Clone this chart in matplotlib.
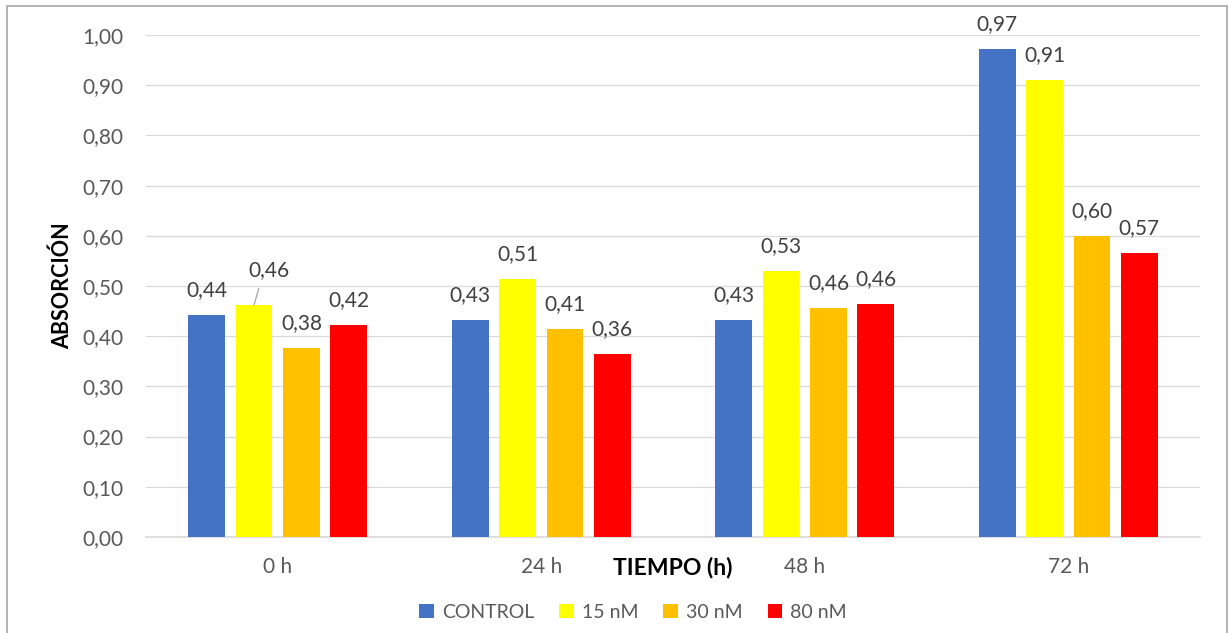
import numpy as np
import matplotlib
matplotlib.use("Agg")
import matplotlib.pyplot as plt
from matplotlib.patches import Rectangle

plt.rcParams['font.family'] = ['Lato', 'DejaVu Sans']

# datos
tiempos = ['0 h', '24 h', '48 h', '72 h']
series = ['CONTROL', '15 nM', '30 nM', '80 nM']
control = [0.442, 0.433, 0.432, 0.972]
nm15 = [0.462, 0.514, 0.530, 0.910]
nm30 = [0.376, 0.414, 0.456, 0.600]
nm80 = [0.422, 0.364, 0.464, 0.566]
valores = [control, nm15, nm30, nm80]

colores = ['#4472C4', '#FFFF00', '#FFC000', '#FF0000']

fig = plt.figure(figsize=(12.29, 6.33), dpi=100)
ax = fig.add_axes([0.1188, 0.1517, 0.8576, 0.7930])

x = np.arange(len(tiempos))
ancho = 0.14
paso = 0.18

for i, (nombre, vals) in enumerate(zip(series, valores)):
    pos = x + (i - 1.5) * paso
    ax.bar(pos, vals, width=ancho, color=colores[i], label=nombre, zorder=3)
    for j, v in enumerate(vals):
        txt = f"{v:.2f}".replace('.', ',')
        if i == 1 and j == 0:
            # etiqueta desplazada con linea guia
            ax.annotate(txt, xy=(pos[j], v), xytext=(11, 25), textcoords='offset points',
                        ha='center', va='center', fontsize=15, color='#404040',
                        arrowprops=dict(arrowstyle='-', color='#A6A6A6', lw=0.9,
                                        relpos=(0.3, 0.0), shrinkA=4, shrinkB=0))
        else:
            ax.annotate(txt, xy=(pos[j], v), xytext=(0, 18), textcoords='offset points',
                        ha='center', va='center', fontsize=15, color='#404040',
                        annotation_clip=False)

ax.set_xlim(-0.5, 3.5)
ax.set_ylim(0, 1.0)
ax.set_yticks(np.arange(0, 1.01, 0.1))
ax.set_yticklabels([f"{t:.2f}".replace('.', ',') for t in np.arange(0, 1.01, 0.1)])
ax.set_xticks(x)
ax.set_xticklabels(tiempos)
ax.tick_params(axis='y', length=0, pad=16, labelsize=15, labelcolor='#595959')
ax.tick_params(axis='x', length=0, pad=14.5, labelsize=15, labelcolor='#595959')

ax.grid(axis='y', color='#D9D9D9', lw=0.9, zorder=0)
for s in ['top', 'right', 'left']:
    ax.spines[s].set_visible(False)
ax.spines['bottom'].set_color('#D9D9D9')
ax.spines['bottom'].set_linewidth(1.2)

ax.set_ylabel('ABSORCIÓN', fontsize=15.5, fontweight='bold', color='black', labelpad=7)
fig.text(0.547, 1 - 567 / 633, 'TIEMPO (h)', fontsize=16.5, fontweight='bold',
         ha='center', va='center')

leg = fig.legend(loc='center', bbox_to_anchor=(0.515, 1 - 612 / 633), ncol=4,
                 frameon=False, fontsize=14, handlelength=0.75, handleheight=0.75,
                 handletextpad=0.4, columnspacing=1.3)
for t in leg.get_texts():
    t.set_color('#595959')

# borde del grafico
fig.patches.append(Rectangle((7 / 1229, -0.01), 1220 / 1229, 1 - 6 / 633 + 0.01,
                             transform=fig.transFigure, fill=False,
                             edgecolor='#A6A6A6', lw=1.2))

fig.savefig('out.png', dpi=100)
